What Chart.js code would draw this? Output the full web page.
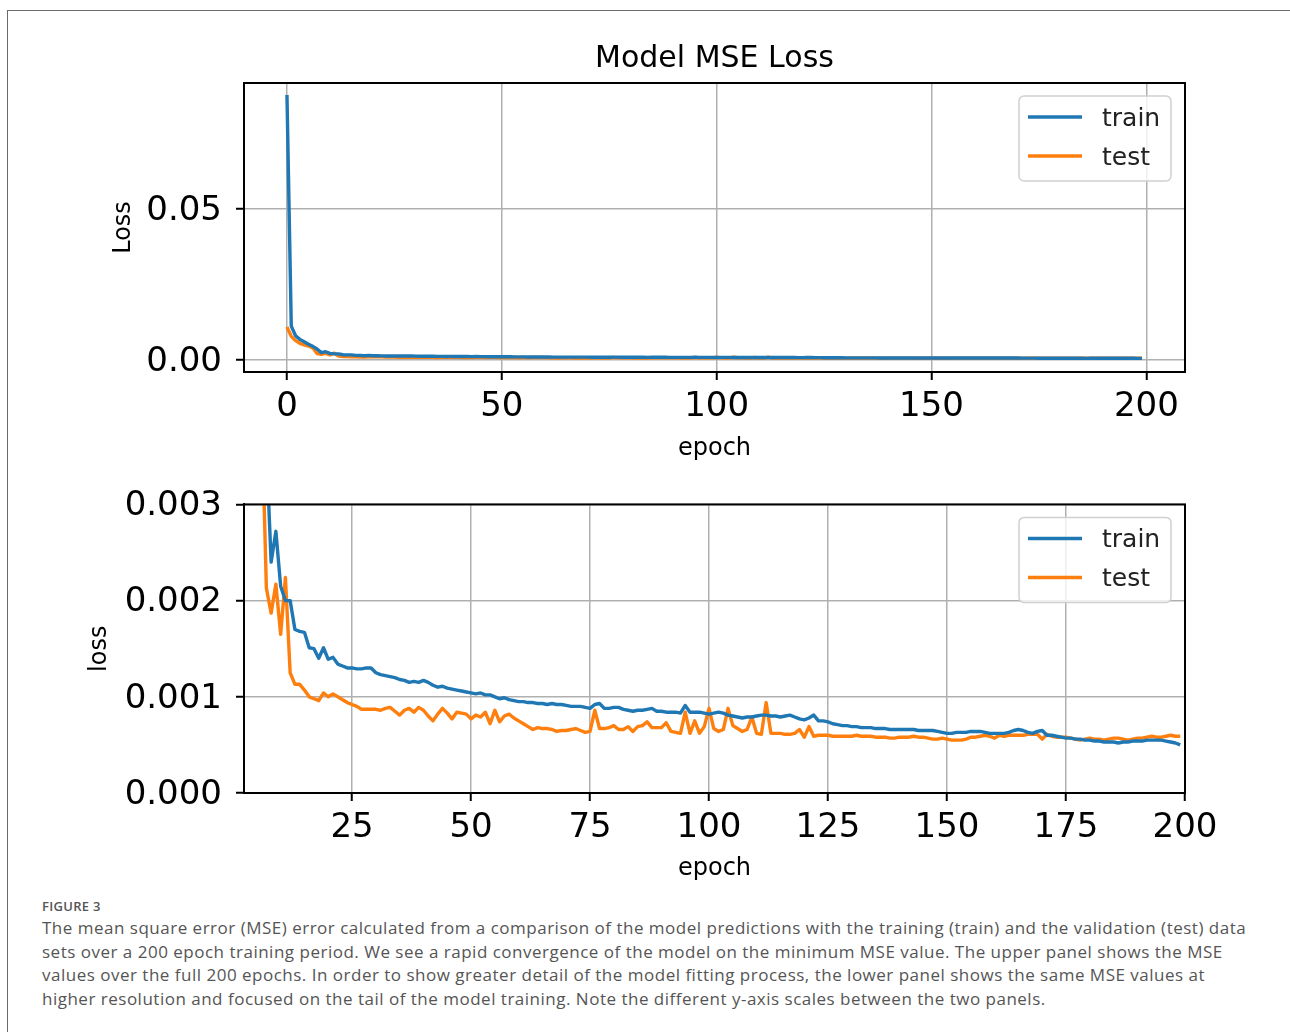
<!DOCTYPE html>
<html>
<head>
<meta charset="utf-8">
<script src="https://cdn.jsdelivr.net/npm/chart.js@4.4.1/dist/chart.umd.min.js"></script>
<style>
	html, body { margin: 0; padding: 0; background: #fff; width: 1290px; height: 1032px; overflow: hidden; }
	#frame { position: absolute; left: 7px; top: 10px; width: 1400px; height: 1100px; border-left: 1.5px solid #6a6a6a; border-top: 1.5px solid #6a6a6a; }
	canvas { position: absolute; left: 0; }
	#top { top: 0; }
	#bottom { top: 470px; }
	#caption { position: absolute; left: 42px; top: 897px; font-family: "Open Sans", sans-serif; color: #555; white-space: nowrap; }
	#caption .fig { font-size: 13px; font-weight: 600; letter-spacing: 0.3px; margin-bottom: 1px; }
	#caption .txt { font-size: 17px; line-height: 23.7px; letter-spacing: 0.5px; }
</style>
</head>
<body>
<div id="frame"></div>
<canvas id="top" width="1290" height="470"></canvas>
<canvas id="bottom" width="1290" height="420"></canvas>
<div id="caption">
	<div class="fig">FIGURE 3</div>
	<div class="txt">The mean square error (MSE) error calculated from a comparison of the model predictions with the training (train) and the validation (test) data<br>sets over a 200 epoch training period. We see a rapid convergence of the model on the minimum MSE value. The upper panel shows the MSE<br>values over the full 200 epochs. In order to show greater detail of the model fitting process, the lower panel shows the same MSE values at<br>higher resolution and focused on the tail of the model training. Note the different y-axis scales between the two panels.</div>
</div>
<script>
// epochs 0..199
const epochs = Array.from({ length: 200 }, (_, i) => i);

// MSE loss
const trainLoss = [
	0.0877, 0.0112, 0.0080, 0.0068, 0.0060, 0.0052, 0.0045, 0.0036, 0.00240, 0.00272,
	0.00215, 0.00200, 0.00200, 0.00170, 0.00168, 0.00167, 0.00151, 0.00150, 0.00140, 0.00151,
	0.00139, 0.00141, 0.00134, 0.00132, 0.00130, 0.00130, 0.00129, 0.00129, 0.00130, 0.00130,
	0.00125, 0.00123, 0.00122, 0.00121, 0.00120, 0.00118, 0.00117, 0.00115, 0.00116, 0.00115,
	0.00117, 0.00115, 0.00112, 0.00110, 0.00111, 0.00109, 0.00108, 0.00107, 0.00106, 0.00105,
	0.00104, 0.00103, 0.00104, 0.00102, 0.00102, 0.00100, 0.00098, 0.00099, 0.00097, 0.00096,
	0.00095, 0.00095, 0.00094, 0.00094, 0.00093, 0.00093, 0.00092, 0.00093, 0.00092, 0.00092,
	0.00091, 0.00090, 0.00090, 0.00090, 0.00089, 0.00088, 0.00092, 0.00093, 0.00088, 0.00088,
	0.00089, 0.00089, 0.00087, 0.00086, 0.00085, 0.00086, 0.00086, 0.00087, 0.00088, 0.00085,
	0.00085, 0.00084, 0.00084, 0.00084, 0.00083, 0.00091, 0.00084, 0.00084, 0.00084, 0.00083,
	0.00082, 0.00083, 0.00084, 0.00083, 0.00081, 0.00080, 0.00079, 0.00078, 0.00079, 0.00079,
	0.00080, 0.00081, 0.00081, 0.00080, 0.00080, 0.00079, 0.00080, 0.00081, 0.00079, 0.00077,
	0.00076, 0.00078, 0.00081, 0.00075, 0.00075, 0.00074, 0.00072, 0.00071, 0.00070, 0.00070,
	0.00069, 0.00069, 0.00068, 0.00068, 0.00068, 0.00067, 0.00067, 0.00067, 0.00066, 0.00066,
	0.00066, 0.00066, 0.00066, 0.00066, 0.00065, 0.00065, 0.00065, 0.00065, 0.00064, 0.00063,
	0.00062, 0.00062, 0.00063, 0.00063, 0.00063, 0.00064, 0.00064, 0.00064, 0.00063, 0.00062,
	0.00062, 0.00062, 0.00062, 0.00063, 0.00065, 0.00066, 0.00065, 0.00063, 0.00062, 0.00064,
	0.00065, 0.00060, 0.00060, 0.00059, 0.00058, 0.00057, 0.00057, 0.00056, 0.00056, 0.00055,
	0.00055, 0.00054, 0.00054, 0.00053, 0.00053, 0.00053, 0.00052, 0.00053, 0.00053, 0.00054,
	0.00054, 0.00054, 0.00055, 0.00055, 0.00055, 0.00055, 0.00054, 0.00053, 0.00052, 0.00050,
];
const testLoss = [
	0.0109, 0.0078, 0.0064, 0.0055, 0.0050, 0.0046, 0.0040, 0.00213, 0.00187, 0.00217,
	0.00165, 0.00224, 0.00125, 0.00113, 0.00113, 0.00107, 0.00100, 0.00098, 0.00096, 0.00104,
	0.00100, 0.00103, 0.00100, 0.00097, 0.00094, 0.00092, 0.00090, 0.00087, 0.00087, 0.00087,
	0.00087, 0.00086, 0.00088, 0.00089, 0.00085, 0.00081, 0.00086, 0.00088, 0.00084, 0.00089,
	0.00086, 0.00080, 0.00075, 0.00082, 0.00088, 0.00083, 0.00077, 0.00084, 0.00083, 0.00082,
	0.00077, 0.00081, 0.00079, 0.00084, 0.00072, 0.00086, 0.00074, 0.00080, 0.00082, 0.00078,
	0.00075, 0.00072, 0.00069, 0.00066, 0.00068, 0.00067, 0.00067, 0.00066, 0.00064, 0.00065,
	0.00065, 0.00066, 0.00067, 0.00065, 0.00063, 0.00064, 0.00086, 0.00067, 0.00067, 0.00068,
	0.00070, 0.00066, 0.00066, 0.00069, 0.00064, 0.00069, 0.00070, 0.00074, 0.00068, 0.00068,
	0.00068, 0.00073, 0.00064, 0.00063, 0.00062, 0.00084, 0.00062, 0.00075, 0.00062, 0.00069,
	0.00088, 0.00067, 0.00064, 0.00066, 0.00088, 0.00070, 0.00067, 0.00064, 0.00066, 0.00079,
	0.00062, 0.00061, 0.00094, 0.00062, 0.00062, 0.00062, 0.00061, 0.00061, 0.00062, 0.00066,
	0.00058, 0.00069, 0.00059, 0.00060, 0.00060, 0.00060, 0.00059, 0.00059, 0.00059, 0.00059,
	0.00059, 0.00060, 0.00059, 0.00059, 0.00059, 0.00058, 0.00058, 0.00058, 0.00057, 0.00057,
	0.00058, 0.00058, 0.00058, 0.00059, 0.00058, 0.00058, 0.00057, 0.00056, 0.00056, 0.00057,
	0.00056, 0.00055, 0.00055, 0.00055, 0.00056, 0.00058, 0.00058, 0.00059, 0.00060, 0.00059,
	0.00057, 0.00060, 0.00059, 0.00060, 0.00060, 0.00060, 0.00060, 0.00061, 0.00061, 0.00061,
	0.00056, 0.00061, 0.00059, 0.00058, 0.00058, 0.00058, 0.00057, 0.00056, 0.00055, 0.00056,
	0.00057, 0.00056, 0.00056, 0.00055, 0.00056, 0.00057, 0.00057, 0.00056, 0.00055, 0.00056,
	0.00057, 0.00057, 0.00058, 0.00059, 0.00058, 0.00058, 0.00059, 0.00060, 0.00059, 0.00059,
];

// tick values for each panel
const topXTicks = [0, 50, 100, 150, 200];
const topYTicks = [0, 0.05];
const bottomXTicks = [25, 50, 75, 100, 125, 150, 175, 200];
const bottomYTicks = [0, 0.001, 0.002, 0.003];

const seriesNames = ["train", "test"];
const seriesColors = ["#1f77b4", "#ff7f0e"];

Chart.defaults.font.family = "'DejaVu Sans', sans-serif";
Chart.defaults.color = "#000";

// black box round the plot area, like matplotlib spines
const framePlugin = {
	id: "frame",
	afterDraw(chart) {
		const { ctx, chartArea: a } = chart;
		ctx.save();
		ctx.strokeStyle = "#000";
		ctx.lineWidth = 2;
		ctx.strokeRect(a.left, a.top, a.right - a.left, a.bottom - a.top);
		ctx.restore();
	},
};

// matplotlib style legend box in the upper right corner
const boxLegend = {
	id: "boxLegend",
	afterDraw(chart) {
		const { ctx, chartArea: a } = chart;
		const w = 152, h = 85;
		const x = a.right - 14 - w, y = a.top + 13;
		ctx.save();
		ctx.beginPath();
		ctx.roundRect(x, y, w, h, 5);
		ctx.fillStyle = "rgba(255,255,255,0.8)";
		ctx.fill();
		ctx.strokeStyle = "#d0d0d0";
		ctx.lineWidth = 1.5;
		ctx.stroke();
		ctx.font = "25px 'DejaVu Sans'";
		ctx.textBaseline = "middle";
		chart.data.datasets.forEach((ds, i) => {
			const ly = y + 21 + i * 39;
			ctx.strokeStyle = ds.borderColor;
			ctx.lineWidth = 3.5;
			ctx.beginPath();
			ctx.moveTo(x + 9, ly);
			ctx.lineTo(x + 63, ly);
			ctx.stroke();
			ctx.fillStyle = "#222";
			ctx.fillText(ds.label, x + 83, ly + 2);
		});
		ctx.restore();
	},
};

function makeDatasets() {
	return [trainLoss, testLoss].map((vals, i) => ({
		label: seriesNames[i],
		data: vals,
		borderColor: seriesColors[i],
		backgroundColor: seriesColors[i],
		borderWidth: 3.4,
		pointRadius: 0,
		tension: 0,
		borderJoinStyle: "round",
		clip: 0,
	}));
}

function axis(min, max, ticks, fmt, titleText, titlePad, fitSize, isX) {
	return {
		type: "linear",
		min: min,
		max: max,
		afterBuildTicks: (s) => { s.ticks = ticks.map((v) => ({ value: v })); },
		afterFit: (s) => { if (isX) s.height = fitSize; else s.width = fitSize; },
		ticks: {
			font: { size: 34 },
			color: "#000",
			padding: isX ? 7 : 14,
			labelOffset: isX ? 0 : 2,
			maxRotation: 0,
			autoSkip: false,
			callback: fmt,
		},
		grid: { color: "#b0b0b0", lineWidth: 1.5, tickColor: "#000", tickLength: 8, tickWidth: 2 },
		border: { display: true, color: "#000", width: 2 },
		title: { display: true, text: titleText, font: { size: 24 }, color: "#000", padding: titlePad },
	};
}

function renderPanel(id, opts) {
	return new Chart(document.getElementById(id), {
		type: "line",
		data: { labels: epochs, datasets: makeDatasets() },
		options: {
			responsive: false,
			animation: false,
			layout: { padding: { top: opts.padTop, right: 105, left: 0, bottom: 0 } },
			plugins: {
				legend: { display: false },
				tooltip: { enabled: false },
				title: opts.title
					? { display: true, text: opts.title, fullSize: false, font: { size: 30, weight: "normal" }, color: "#000", padding: { top: 41, bottom: 6 } }
					: { display: false },
			},
			scales: {
				x: axis(opts.xMin, opts.xMax, opts.xTicks, (v) => String(v), "epoch", { top: 0, bottom: 6.6 }, opts.xHeight, true),
				y: axis(opts.yMin, opts.yMax, opts.yTicks, (v) => v.toFixed(opts.yDigits), opts.yTitle, { top: opts.yTitlePad, bottom: 0 }, 244, false),
			},
		},
		plugins: [framePlugin, boxLegend],
	});
}

renderPanel("top", {
	title: "Model MSE Loss",
	padTop: 0,
	xMin: -10, xMax: 209, xTicks: topXTicks, xHeight: 98,
	yMin: -0.004, yMax: 0.0917, yTicks: topYTicks, yDigits: 2,
	yTitle: "Loss", yTitlePad: 109,
});

renderPanel("bottom", {
	title: null,
	padTop: 33,
	xMin: 2.3, xMax: 200, xTicks: bottomXTicks, xHeight: 97,
	yMin: 0, yMax: 0.003, yTicks: bottomYTicks, yDigits: 3,
	yTitle: "loss", yTitlePad: 85,
});
</script>
</body>
</html>
